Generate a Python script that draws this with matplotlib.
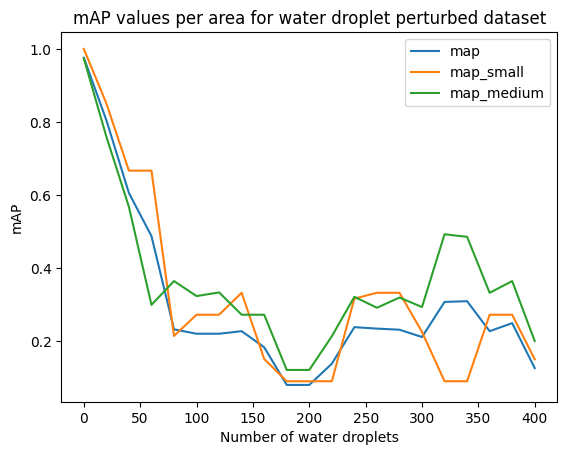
import matplotlib
matplotlib.use("Agg")
import matplotlib.pyplot as plt

droplets = [0, 20, 40, 60, 80, 100, 120, 140, 160, 180, 200,
            220, 240, 260, 280, 300, 320, 340, 360, 380, 400]

map_all = [0.976, 0.805, 0.606, 0.488, 0.233, 0.221, 0.221, 0.228, 0.184, 0.081, 0.081,
           0.139, 0.239, 0.235, 0.232, 0.212, 0.308, 0.310, 0.228, 0.250, 0.127]
map_small = [1.0, 0.851, 0.667, 0.667, 0.215, 0.273, 0.273, 0.333, 0.152, 0.091, 0.091,
             0.091, 0.317, 0.333, 0.333, 0.226, 0.091, 0.091, 0.273, 0.273, 0.151]
map_medium = [0.974, 0.76, 0.568, 0.30, 0.365, 0.324, 0.334, 0.273, 0.273, 0.122, 0.122,
              0.214, 0.322, 0.292, 0.320, 0.294, 0.493, 0.486, 0.333, 0.365, 0.201]

fig, ax = plt.subplots()
ax.plot(droplets, map_all, label="map")
ax.plot(droplets, map_small, label="map_small")
ax.plot(droplets, map_medium, label="map_medium")
ax.set_title("mAP values per area for water droplet perturbed dataset")
ax.set_xlabel("Number of water droplets")
ax.set_ylabel("mAP")
ax.legend()
fig.savefig("out.png", bbox_inches="tight")
